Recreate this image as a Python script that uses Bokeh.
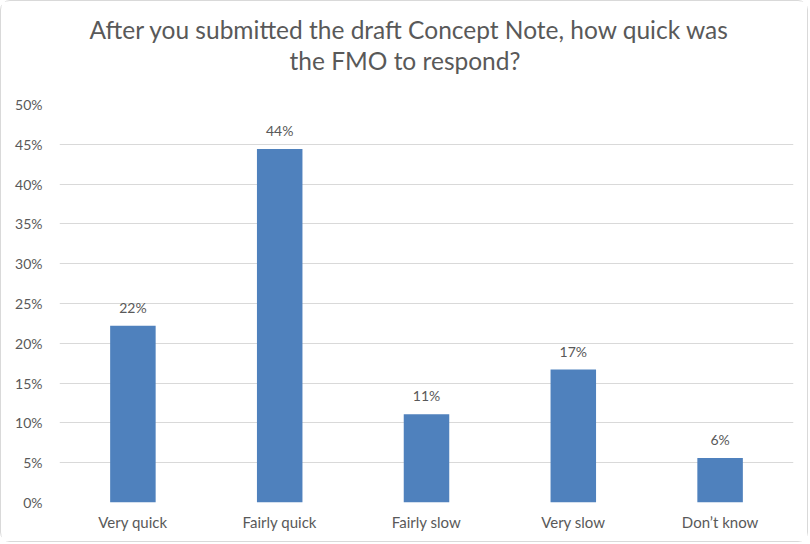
from bokeh.plotting import figure
from bokeh.models import (FactorRange, Range1d, FixedTicker, NumeralTickFormatter,
                          ColumnDataSource, Title)
from bokeh.embed import file_html
from bokeh.resources import INLINE

categories = ["Very quick", "Fairly quick", "Fairly slow", "Very slow", "Don\u2019t know"]
values = [0.222, 0.444, 0.111, 0.167, 0.056]
y_ticks = [0, 0.05, 0.10, 0.15, 0.20, 0.25, 0.30, 0.35, 0.40, 0.45, 0.50]
title_lines = ["After you submitted the draft Concept Note, how quick was",
               "the FMO to respond?"]

FONT = "Lato"
GRAY = "#595959"

labels = [f"{round(v * 100)}%" for v in values]
src = ColumnDataSource(dict(cat=categories, val=values, lab=labels))

p = figure(x_range=FactorRange(factors=categories), y_range=Range1d(0, 0.5),
           width=808, height=542, output_backend="svg", toolbar_location=None,
           title=None, min_border_left=58, min_border_right=16,
           min_border_top=103, min_border_bottom=41)
p.styles = {"border": "1px solid #d9d9d9", "border-radius": "10px"}
p.outline_line_color = None

# spacer between the frame and the two title lines
p.add_layout(Title(text=" ", text_font_size="10px", standoff=16), "above")
title_offsets = [30, 230]
for t, off in reversed(list(zip(title_lines, title_offsets))):
    p.add_layout(Title(text=t, align="left", offset=off, vertical_align="middle",
                       text_font=FONT, text_font_size="24.5px",
                       text_line_height=1.16,
                       text_font_style="normal", text_color=GRAY, standoff=0),
                 "above")

p.vbar(x="cat", top="val", width=0.31, source=src, color="#4F81BD", line_color=None)
p.text(x="cat", y="val", text="lab", source=src, text_align="center",
       text_baseline="bottom", y_offset=-10, text_font_size="14px",
       text_color=GRAY, text_font={"value": FONT})

p.yaxis.ticker = FixedTicker(ticks=y_ticks)
p.yaxis.formatter = NumeralTickFormatter(format="0%")
for ax in (p.xaxis, p.yaxis):
    ax.axis_line_color = None
    ax.major_tick_line_color = None
    ax.minor_tick_line_color = None
    ax.major_label_text_font = FONT
    ax.major_label_text_color = GRAY
p.yaxis.major_label_text_font_size = "14px"
p.xaxis.major_label_text_font_size = "15px"
p.yaxis.major_label_standoff = 11
p.xaxis.major_label_standoff = 4
p.xgrid.grid_line_color = None
p.ygrid.grid_line_color = "#d9d9d9"
p.ygrid.grid_line_width = 1

open("out.html", "w").write(file_html(p, INLINE))
